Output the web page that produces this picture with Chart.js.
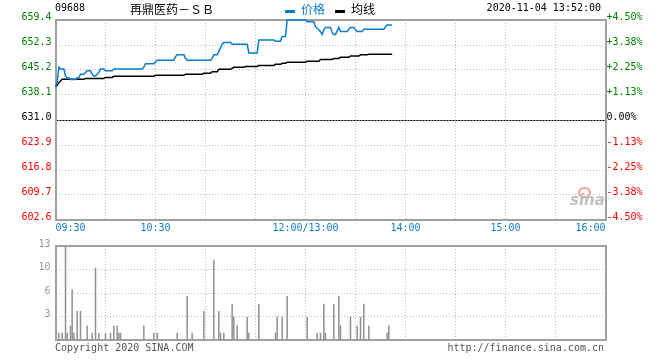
<!DOCTYPE html>
<html><head><meta charset="utf-8">
<script src="https://cdn.jsdelivr.net/npm/chart.js@4/dist/chart.umd.min.js"></script>
<style>
html,body{margin:0;padding:0;background:#fff;}
#wrap{position:relative;width:660px;height:360px;overflow:hidden;background:#fff;}
canvas{position:absolute;left:0;}
.t{position:absolute;white-space:nowrap;font-family:'DejaVu Sans Mono',monospace;font-size:10px;line-height:12px;}
.c{position:absolute;white-space:nowrap;font-family:'Noto Sans CJK SC',sans-serif;font-size:12px;line-height:12px;}
.mk{position:absolute;width:10px;height:3px;}
</style></head><body>
<div id="wrap">
  <canvas id="c1" width="660" height="240" style="top:0"></canvas>
  <canvas id="c2" width="660" height="125" style="top:235px"></canvas>
  <div class="t" style="left:55px;top:2px;color:#000">09688</div>
  <div class="c" style="left:130px;top:3px;color:#000">再鼎医药－ＳＢ</div>
  <div class="mk" style="left:285px;top:10px;background:#0a7ccc"></div>
  <div class="c" style="left:301px;top:3px;color:#0a7ccc">价格</div>
  <div class="mk" style="left:335px;top:10px;background:#000"></div>
  <div class="c" style="left:351px;top:3px;color:#000">均线</div>
  <div class="t" style="right:59px;top:2px;color:#000">2020-11-04 13:52:00</div>
  <div class="t" style="left:55px;top:342px;color:#555">Copyright 2020 SINA.COM</div>
  <div class="t" style="right:56px;top:342px;color:#555">http://finance.sina.com.cn</div>
  <div style="position:absolute;left:578px;top:187px;width:9px;height:7px;border-radius:50%;border:2px solid #f3a0a0;"></div>
  <div style="position:absolute;left:570px;top:191px;font:italic bold 15px 'DejaVu Sans',sans-serif;color:#c0c0c0;">sina</div>
</div>
<script>
// ---------- data ----------
const prevClose = 631.0;
const priceTicks = [602.6, 609.7, 616.8, 623.9, 631.0, 638.1, 645.2, 652.3, 659.4];
const pctLabels = ['-4.50%','-3.38%','-2.25%','-1.13%','0.00%','+1.13%','+2.25%','+3.38%','+4.50%'];
const gridMinutes = [0,30,60,90,120,150,180,210,240,270,300,330];
const timeTickMinutes = [0,60,150,210,270,330];
const timeTickLabels = ['09:30','10:30','12:00/13:00','14:00','15:00','16:00'];
const volTicks = [0, 3.25, 6.5, 9.75, 13];
const volTickLabels = ['', '3', '6', '10', '13'];

// minute-by-minute price (09:30 -> 13:52)
const priceValues = [
 640.5,641.5,646.0,645.5,645.5,645.5,643.5,643.0,643.0,642.5,
 642.5,642.5,642.5,643.0,643.0,644.0,644.0,644.0,644.5,645.0,
 645.0,645.0,644.0,643.5,643.5,644.0,644.5,645.5,645.5,645.5,
 645.0,645.0,645.0,645.0,645.0,645.5,645.5,645.5,645.5,645.5,
 645.5,645.5,645.5,645.5,645.5,645.5,645.5,645.5,645.5,645.5,
 645.5,645.5,645.5,646.0,647.0,647.0,647.0,647.0,647.0,647.0,
 647.5,648.0,648.0,648.0,648.0,648.0,648.0,648.0,648.0,648.0,
 648.0,648.0,649.0,649.5,649.5,649.5,649.5,649.5,648.5,648.0,
 648.0,648.0,648.0,648.0,648.0,648.0,648.0,648.0,648.0,648.0,
 648.0,648.0,648.0,648.0,648.5,649.5,649.5,649.5,650.5,651.5,
 652.5,653.0,653.0,653.0,653.0,653.0,652.5,652.5,652.5,652.5,
 652.5,652.5,652.5,652.5,652.5,652.5,650.0,650.0,650.0,650.0,
 650.0,650.0,653.7,653.7,653.7,653.7,653.7,653.7,653.7,653.7,
 653.7,653.7,653.4,653.4,653.4,653.4,654.7,654.7,654.7,659.4,
 659.4,659.4,659.4,659.4,659.4,659.4,659.4,659.4,659.4,659.4,
 659.4,658.9,658.9,658.9,658.9,658.9,657.5,657.0,656.6,656.1,
 655.3,656.6,657.3,657.3,657.3,657.3,655.8,655.3,655.3,656.3,
 657.3,656.1,656.1,656.1,656.1,656.1,656.8,657.3,657.3,657.3,
 656.6,656.1,656.1,656.1,656.1,656.8,656.8,656.8,656.8,656.8,
 656.8,656.8,656.8,656.8,656.8,656.8,656.8,656.8,657.5,658.0,
 658.0,658.0,658.0
];
// minute-by-minute average price
const avgValues = [
 640.5,640.9,641.6,642.1,642.55,642.55,642.55,642.55,642.55,642.55,
 642.55,642.55,642.55,642.55,642.55,642.55,642.55,642.55,642.8,642.8,
 642.8,642.8,642.8,642.8,642.8,642.8,642.8,642.8,642.8,642.8,
 643.1,643.1,643.1,643.1,643.1,643.4,643.4,643.4,643.4,643.4,
 643.4,643.4,643.4,643.4,643.4,643.4,643.4,643.4,643.4,643.4,
 643.4,643.4,643.4,643.4,643.4,643.4,643.4,643.4,643.4,643.4,
 643.7,643.7,643.7,643.7,643.7,643.7,643.7,643.7,643.7,643.7,
 643.7,643.7,643.7,643.7,643.7,643.7,643.7,643.7,644.0,644.0,
 644.0,644.0,644.0,644.0,644.0,644.0,644.0,644.0,644.0,644.25,
 644.25,644.25,644.25,644.25,644.7,644.7,644.7,644.7,645.4,645.4,
 645.4,645.4,645.4,645.4,645.4,645.4,645.7,645.95,645.95,645.95,
 645.95,645.95,645.95,645.95,646.2,646.2,646.2,646.2,646.2,646.2,
 646.2,646.2,646.5,646.5,646.5,646.5,646.5,646.5,646.5,646.5,
 646.5,646.5,646.8,646.8,646.8,646.8,647.1,647.1,647.1,647.4,
 647.4,647.4,647.4,647.4,647.4,647.4,647.4,647.4,647.4,647.4,
 647.4,647.7,647.7,647.7,647.7,647.7,647.7,647.7,647.7,648.2,
 648.2,648.2,648.2,648.2,648.2,648.2,648.2,648.5,648.5,648.5,
 648.5,648.8,648.8,648.8,648.8,648.8,648.8,649.2,649.2,649.2,
 649.2,649.2,649.2,649.5,649.5,649.5,649.5,649.5,649.65,649.65,
 649.65,649.65,649.65,649.65,649.65,649.65,649.65,649.65,649.65,649.65,
 649.65,649.65,649.65
];
// volume bars: minute index and volume
const volMinutes = [2,4,6,7,9,10,11,13,15,19,22,24,26,30,33,35,37,38,39,53,59,61,73,79,82,89,95,98,99,101,106,107,109,115,116,122,132,133,136,139,151,157,159,161,162,167,170,171,177,181,183,185,188,199,200];
const volValues  = [1,1,13,1,2,7,1,4,4,2,1,10,1,1,1,2,2,1,1,2,1,1,1,6.1,1,4,11.1,4,1,1,5,3.2,2,3.2,1,5,1,3.2,3.2,6.1,3.2,1,1,5,1,5,6.1,2,3.2,2,3.2,5,2,1,2];

// ---------- styles ----------
const BLUE = '#0a7ccc', GREEN = '#008000', RED = '#ff0000';
const FONT = {family: "'DejaVu Sans Mono', monospace", size: 10};
const GRID = '#bdbdbd';
const upDown = v => v > prevClose + 1e-6 ? GREEN : (v < prevClose - 1e-6 ? RED : '#000');

const framePlugin = {
  id: 'frame',
  beforeDatasetsDraw(chart) {
    const {ctx, chartArea: a} = chart;
    ctx.save();
    ctx.strokeStyle = '#a0a0a0';
    ctx.lineWidth = 2;
    ctx.strokeRect(a.left + 0.5, a.top, a.right - a.left, a.bottom - a.top);
    ctx.restore();
  }
};
const zeroLinePlugin = {
  id: 'zeroLine',
  beforeDatasetsDraw(chart) {
    const {ctx, chartArea: a} = chart;
    const y = Math.round(chart.scales.y.getPixelForValue(prevClose)) + 0.5;
    ctx.save();
    ctx.strokeStyle = '#000';
    ctx.lineWidth = 1;
    ctx.setLineDash([2, 1]);
    ctx.beginPath(); ctx.moveTo(a.left + 1, y); ctx.lineTo(a.right, y); ctx.stroke();
    ctx.restore();
  }
};

const xAxis = (showLabels) => ({
  type: 'linear', min: 0, max: 330, offset: false,
  afterBuildTicks: s => { s.ticks = gridMinutes.map(v => ({value: v})); },
  afterFit: s => { s.height = 20; },
  ticks: {
    display: showLabels, autoSkip: false, maxRotation: 0, minRotation: 0, align: 'inner',
    color: BLUE, font: FONT, padding: 2,
    callback: v => { const k = timeTickMinutes.indexOf(v); return k >= 0 ? timeTickLabels[k] : ''; }
  },
  grid: {color: GRID, lineWidth: 1, drawTicks: false, offset: false},
  border: {display: false, dash: [1, 2]}
});

new Chart(document.getElementById('c1'), {
  type: 'line',
  data: {
    datasets: [
      {label: '价格', data: priceValues.map((v, i) => ({x: i, y: v})), borderColor: BLUE, borderWidth: 1.5, pointRadius: 0, tension: 0, fill: false, clip: 3},
      {label: '均线', data: avgValues.map((v, i) => ({x: i, y: v})), borderColor: '#000', borderWidth: 1.5, pointRadius: 0, tension: 0, fill: false, clip: 3}
    ]
  },
  options: {
    responsive: false, animation: false, events: [],
    layout: {padding: {top: 20, left: 0, right: 0, bottom: 0}},
    plugins: {legend: {display: false}, tooltip: {enabled: false}},
    scales: {
      x: xAxis(true),
      y: {
        position: 'left', min: priceTicks[0], max: priceTicks[priceTicks.length - 1],
        afterBuildTicks: s => { s.ticks = priceTicks.map(v => ({value: v})); },
        afterFit: s => { s.width = 55.5; },
        ticks: {font: FONT, padding: 4, labelOffset: -3, color: c => upDown(c.tick.value), callback: v => v.toFixed(1)},
        grid: {color: GRID, lineWidth: 1, drawTicks: false},
        border: {display: false, dash: [1, 2]}
      },
      y2: {
        position: 'right', min: priceTicks[0], max: priceTicks[priceTicks.length - 1],
        afterBuildTicks: s => { s.ticks = priceTicks.map(v => ({value: v})); },
        afterFit: s => { s.width = 54.5; },
        ticks: {font: FONT, padding: 1, labelOffset: -3, color: c => upDown(c.tick.value), callback: (v, i) => pctLabels[i]},
        grid: {drawOnChartArea: false, drawTicks: false},
        border: {display: false}
      }
    }
  },
  plugins: [zeroLinePlugin, framePlugin]
});

new Chart(document.getElementById('c2'), {
  type: 'bar',
  data: {
    datasets: [{label: 'vol', data: volMinutes.map((m, k) => ({x: m, y: volValues[k]})), backgroundColor: '#909090', borderWidth: 0, barThickness: 1.5, inflateAmount: 0, grouped: false}]
  },
  options: {
    responsive: false, animation: false, events: [],
    layout: {padding: {top: 5, left: 0, right: 0, bottom: 0}},
    plugins: {legend: {display: false}, tooltip: {enabled: false}},
    scales: {
      x: xAxis(false),
      y: {
        position: 'left', min: 0, max: 13,
        afterBuildTicks: s => { s.ticks = volTicks.map(v => ({value: v})); },
        afterFit: s => { s.width = 55.5; },
        ticks: {font: FONT, padding: 5, labelOffset: -2, color: '#999', callback: (v, i) => volTickLabels[i]},
        grid: {color: GRID, lineWidth: 1, drawTicks: false},
        border: {display: false, dash: [1, 2]}
      },
      y2: {
        position: 'right', min: 0, max: 13,
        afterFit: s => { s.width = 54.5; },
        ticks: {display: false},
        grid: {drawOnChartArea: false, drawTicks: false},
        border: {display: false}
      }
    }
  },
  plugins: [framePlugin]
});
</script>
</body></html>
